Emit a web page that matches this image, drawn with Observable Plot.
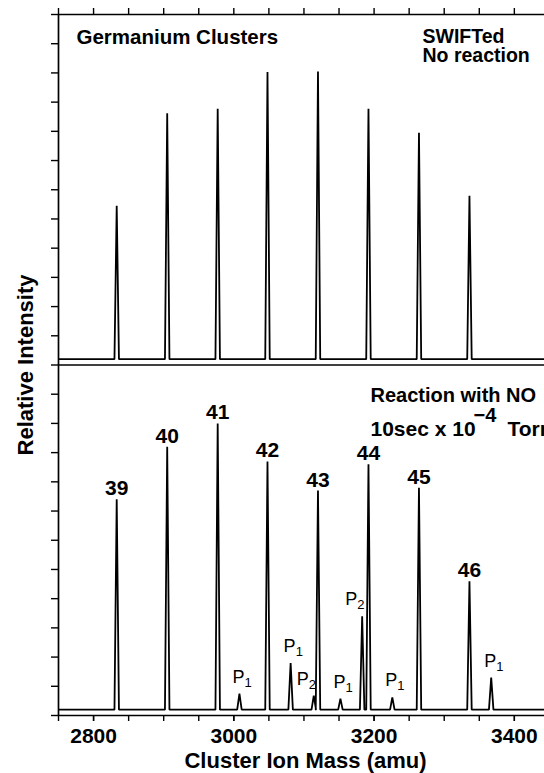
<!DOCTYPE html>
<html><head><meta charset="utf-8">
<script src="https://cdn.jsdelivr.net/npm/d3@7"></script>
<script src="https://cdn.jsdelivr.net/npm/@observablehq/plot@0.6"></script>
<style>
html,body{margin:0;padding:0;background:#fff;overflow:hidden;}
#chart svg{overflow:hidden;font-family:"Liberation Sans",Arial,Helvetica,sans-serif;color:#000;}
</style></head><body><div id="chart"></div>
<script>
// ---- data ----
const clusterSizes = [39, 40, 41, 42, 43, 44, 45, 46];
const clusterMass = [2833, 2905, 2977, 3048, 3120, 3192, 3264, 3336];
const swiftedIntensity = [5.45, 8.62, 8.77, 10.03, 10.05, 8.77, 7.95, 5.79];
const reactedIntensity = [7.4, 9.2, 10.0, 8.7, 7.7, 8.6, 7.8, 4.6];
const productSubscript = ["1", "1", "2", "1", "2", "1", "1"];
const productMass = [3008, 3081, 3114, 3152, 3183, 3226, 3367];
const productIntensity = [0.75, 1.8, 0.68, 0.58, 3.4, 0.62, 1.3];
const baselineLevel = 0.2;
const xTickLabels = [2800, 3000, 3200, 3400];
const xMinorTicks = d3.range(2750, 3401, 50);
const yTicks = d3.range(0, 25, 1);
const xDomain = [2750, 3443];
const panelHeight = 12;

// ---- build stick-spectrum outlines from the peak lists ----
const halfWidth = 3.2;
function spectrum(masses, heights, offset, panel) {
  const peaks = masses.map((m, i) => ({m, h: heights[i]})).sort((a, b) => a.m - b.m);
  const pts = [{x: xDomain[0], y: offset + baselineLevel, panel}];
  for (const p of peaks) {
    pts.push({x: p.m - halfWidth, y: offset + baselineLevel, panel});
    pts.push({x: p.m, y: offset + p.h, panel});
    pts.push({x: p.m + halfWidth, y: offset + baselineLevel, panel});
  }
  pts.push({x: xDomain[1], y: offset + baselineLevel, panel});
  return pts;
}
const topSpectrum = spectrum(clusterMass, swiftedIntensity, panelHeight, "top");
const bottomSpectrum = spectrum(clusterMass.concat(productMass), reactedIntensity.concat(productIntensity), 0, "bottom");

const clusterLabels = clusterSizes.map((n, i) => ({n: String(n), x: clusterMass[i], y: reactedIntensity[i]}));
const products = productMass.map((m, i) => ({sub: productSubscript[i], x: m, y: productIntensity[i]}));
const p1 = products.filter(d => d.sub === "1");
const p2 = products.filter(d => d.sub === "2");

const bold = {fontWeight: "bold", fill: "black"};
const chart = Plot.plot({
  width: 544, height: 773,
  marginLeft: 58, marginRight: 0, marginTop: 14, marginBottom: 58,
  x: {domain: xDomain, axis: null},
  y: {domain: [0, 24], axis: null},
  marks: [
    Plot.line(topSpectrum, {x: "x", y: "y", z: "panel", stroke: "black", strokeWidth: 1.8, strokeLinejoin: "miter", clip: true}),
    Plot.line(bottomSpectrum, {x: "x", y: "y", z: "panel", stroke: "black", strokeWidth: 1.8, strokeLinejoin: "miter", clip: true}),
    Plot.ruleY([0, panelHeight, 2 * panelHeight], {stroke: "black", strokeWidth: 1.7}),
    Plot.ruleX([xDomain[0]], {stroke: "black", strokeWidth: 1.7}),
    Plot.axisX({ticks: xMinorTicks, tickSize: 6, tickFormat: () => "", label: null, strokeWidth: 1.4}),
    Plot.axisX({ticks: xTickLabels, tickSize: 6, tickPadding: 7, tickFormat: d3.format("d"), fontSize: 21, ...bold, label: null, strokeWidth: 1.4}),
    Plot.axisX({anchor: "top", ticks: xMinorTicks, tickSize: 7, tickFormat: () => "", label: null, strokeWidth: 1.4}),
    Plot.axisY({ticks: yTicks, tickSize: 7, tickFormat: () => "", label: null, strokeWidth: 1.4}),
    // axis titles
    Plot.text(["Cluster Ion Mass (amu)"], {frameAnchor: "bottom", dx: 4, dy: 52, lineAnchor: "bottom", fontSize: 22, ...bold}),
    Plot.text(["Relative Intensity"], {frameAnchor: "left", dx: -33, rotate: -90, lineAnchor: "middle", textAnchor: "middle", fontSize: 22, ...bold}),
    // panel annotations
    Plot.text(["Germanium Clusters"], {frameAnchor: "top-left", dx: 18, dy: 29.5, lineAnchor: "bottom", textAnchor: "start", fontSize: 20.5, ...bold}),
    Plot.text(["SWIFTed"], {frameAnchor: "top-left", dx: 364, dy: 28, lineAnchor: "bottom", textAnchor: "start", fontSize: 19.5, ...bold}),
    Plot.text(["No reaction"], {frameAnchor: "top-left", dx: 364, dy: 47, lineAnchor: "bottom", textAnchor: "start", fontSize: 19.5, ...bold}),
    Plot.text(["Reaction with NO"], {frameAnchor: "top-left", dx: 312, dy: 387, lineAnchor: "bottom", textAnchor: "start", fontSize: 20, ...bold}),
    Plot.text(["10sec x 10"], {frameAnchor: "top-left", dx: 312, dy: 421, lineAnchor: "bottom", textAnchor: "start", fontSize: 21, ...bold}),
    Plot.text(["\u22124"], {frameAnchor: "top-left", dx: 415, dy: 407, lineAnchor: "bottom", textAnchor: "start", fontSize: 20, ...bold}),
    Plot.text(["Torr"], {frameAnchor: "top-left", dx: 449, dy: 421, lineAnchor: "bottom", textAnchor: "start", fontSize: 21, ...bold}),
    // peak labels
    Plot.text(clusterLabels, {x: "x", y: "y", text: "n", dy: -4, lineAnchor: "bottom", fontSize: 21, ...bold}),
    Plot.text(p1, {x: "x", y: "y", text: () => "P", dx: 5, dy: -11, lineAnchor: "bottom", textAnchor: "end", fontSize: 18, fill: "black"}),
    Plot.text(p1, {x: "x", y: "y", text: "sub", dx: 5, dy: -7, lineAnchor: "bottom", textAnchor: "start", fontSize: 13, fill: "black"}),
    Plot.text(p2, {x: "x", y: "y", text: () => "P", dx: -5, dy: -11, lineAnchor: "bottom", textAnchor: "end", fontSize: 18, fill: "black"}),
    Plot.text(p2, {x: "x", y: "y", text: "sub", dx: -5, dy: -7, lineAnchor: "bottom", textAnchor: "start", fontSize: 13, fill: "black"})
  ]
});
document.getElementById("chart").appendChild(chart);
</script></body></html>
